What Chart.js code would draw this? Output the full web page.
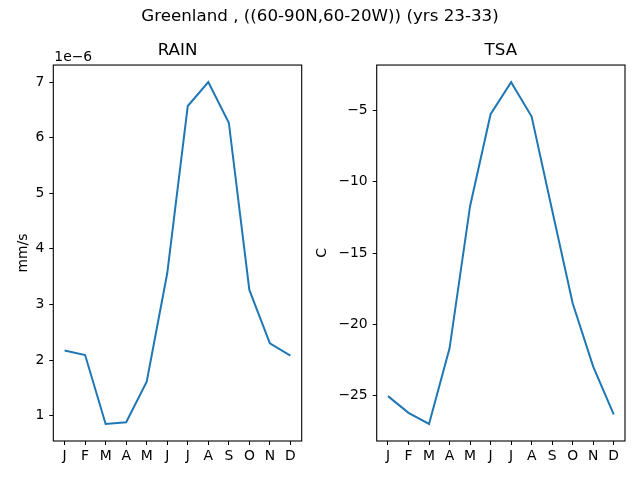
<!DOCTYPE html>
<html>
<head>
<meta charset="utf-8">
<script src="https://cdn.jsdelivr.net/npm/chart.js@4.4.1/dist/chart.umd.min.js"></script>
<style>
  body { margin: 0; background: #fff; }
  #wrap { position: relative; width: 640px; height: 480px; }
  #wrap canvas { position: absolute; left: 0; top: 0; }
  #suptitle {
    position: absolute; left: 0; top: 5px; width: 640px;
    text-align: center; font: 16.7px "DejaVu Sans"; line-height: 20px; color: #000;
  }
</style>
</head>
<body>
<div id="wrap">
  <canvas id="rain" width="640" height="480"></canvas>
  <canvas id="tsa" width="640" height="480"></canvas>
  <div id="suptitle">Greenland , ((60-90N,60-20W)) (yrs 23-33)</div>
</div>
<script>
// dados
const meses = ['J', 'F', 'M', 'A', 'M', 'J', 'J', 'A', 'S', 'O', 'N', 'D'];
const chuva = [2.17e-6, 2.09e-6, 0.85e-6, 0.88e-6, 1.61e-6, 3.56e-6, 6.57e-6, 7.0e-6, 6.27e-6, 3.26e-6, 2.30e-6, 2.08e-6]; // mm/s
const temperatura = [-25.05, -26.22, -27.0, -21.69, -11.71, -5.25, -3.0, -5.42, -12.0, -18.53, -22.98, -26.33]; // C
const ticksChuva = [1e-6, 2e-6, 3e-6, 4e-6, 5e-6, 6e-6, 7e-6];
const ticksTemp = [-25, -20, -15, -10, -5];

const fonte = { family: 'DejaVu Sans', size: 13.9 };
const azul = '#1f77b4';

// desenha a moldura do eixo e o texto de escala (1e-6)
const moldura = {
    id: 'moldura',
    afterDraw(chart, args, opts) {
        const { ctx, chartArea: a } = chart;
        ctx.save();
        ctx.strokeStyle = '#000';
        ctx.lineWidth = 1.1;
        ctx.strokeRect(a.left, a.top, a.right - a.left, a.bottom - a.top);
        if (opts.escala) {
            ctx.fillStyle = '#000';
            ctx.font = '13.9px "DejaVu Sans"';
            ctx.textAlign = 'left';
            ctx.textBaseline = 'alphabetic';
            ctx.fillText(opts.escala, a.left + 1, a.top - 4);
        }
        ctx.restore();
    }
};

function criarPainel(id, titulo, valores, ticksY, min, max, rotuloY, formato, pad, larguraY, tituloPadY, escala) {
    const ctx = document.getElementById(id).getContext('2d');
    return new Chart(ctx, {
        type: 'line',
        data: {
            datasets: [{
                data: valores.map((v, i) => ({ x: i, y: v })),
                borderColor: azul,
                borderWidth: 2,
                pointRadius: 0,
                tension: 0,
                fill: false
            }]
        },
        options: {
            responsive: false,
            animation: false,
            devicePixelRatio: 1,
            layout: { padding: pad },
            plugins: {
                legend: { display: false },
                tooltip: { enabled: false },
                title: {
                    display: true,
                    text: titulo,
                    fullSize: false,
                    color: '#000',
                    font: { family: 'DejaVu Sans', size: 16.7, weight: 'normal', lineHeight: 1.2 },
                    padding: { top: 41, bottom: 4 }
                },
                moldura: { escala: escala }
            },
            scales: {
                x: {
                    type: 'linear',
                    min: -0.55,
                    max: 11.55,
                    afterBuildTicks: s => { s.ticks = meses.map((m, i) => ({ value: i })); },
                    afterFit: s => { s.height = 39; },
                    ticks: {
                        color: '#000', font: fonte, padding: 3, maxRotation: 0, autoSkip: false,
                        callback: v => meses[v]
                    },
                    grid: { drawOnChartArea: false, drawTicks: true, tickLength: 4, color: '#000' },
                    border: { display: false }
                },
                y: {
                    type: 'linear',
                    min: min,
                    max: max,
                    afterBuildTicks: s => { s.ticks = ticksY.map(v => ({ value: v })); },
                    afterFit: s => { s.width = larguraY; },
                    ticks: { color: '#000', font: fonte, padding: 5, callback: formato },
                    grid: { drawOnChartArea: false, drawTicks: true, tickLength: 4, color: '#000' },
                    border: { display: false },
                    title: {
                        display: true, text: rotuloY, color: '#000',
                        font: { family: 'DejaVu Sans', size: 13.9, lineHeight: 1.2 },
                        padding: { top: tituloPadY, bottom: 0 }
                    }
                }
            }
        },
        plugins: [moldura]
    });
}

criarPainel('rain', 'RAIN', chuva, ticksChuva, 0.543e-6, 7.307e-6, 'mm/s',
    v => String(Math.round(v / 1e-6)),
    { left: 0, top: 0, right: 338.3, bottom: 0 }, 53.3, 14.7, '1e\u22126');

criarPainel('tsa', 'TSA', temperatura, ticksTemp, -28.2, -1.8, 'C',
    v => (v < 0 ? '\u2212' + Math.abs(v) : String(v)),
    { left: 310, top: 0, right: 15, bottom: 0 }, 66.7, 4.2, null);
</script>
</body>
</html>
